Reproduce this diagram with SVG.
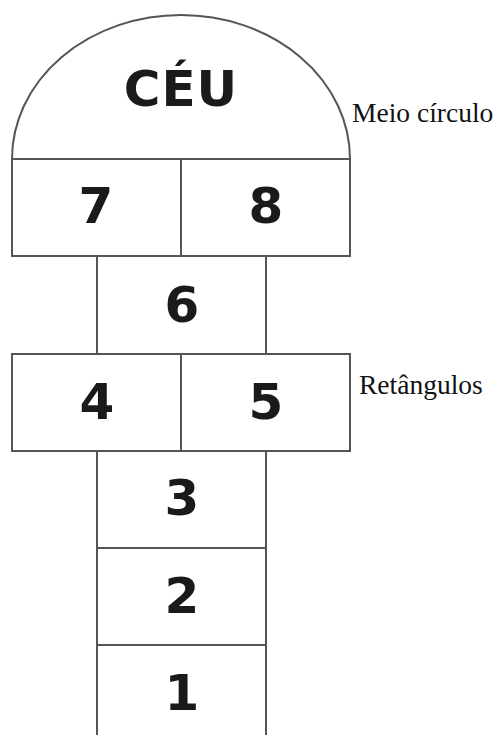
<svg xmlns="http://www.w3.org/2000/svg" width="496" height="735" viewBox="0 0 496 735">
<style>
.c{fill:#fff;stroke:#555;stroke-width:2}
.l{fill:none;stroke:#555;stroke-width:2}
.n{font-family:"DejaVu Sans",sans-serif;font-weight:bold;font-size:50px;fill:#1a1a1a;text-anchor:middle}
.lb{font-family:"Liberation Serif",serif;font-size:27.5px;fill:#111}
</style>
<rect width="496" height="735" fill="#fff"/>
<g id="ceu">
<path class="c" d="M12 159 A169 144 0 0 1 350 159 Z"/>
<text class="n" x="181" y="106" font-size="51" letter-spacing="1">CÉU</text>
</g>
<g id="box7"><rect class="c" x="12" y="159" width="169" height="97"/><text class="n" x="96" y="223">7</text></g>
<g id="box8"><rect class="c" x="181" y="159" width="169" height="97"/><text class="n" x="266" y="223">8</text></g>
<g id="box6"><rect class="c" x="97" y="256" width="169" height="98"/><text class="n" x="182" y="322">6</text></g>
<g id="box4"><rect class="c" x="12" y="354" width="169" height="97"/><text class="n" x="97" y="419">4</text></g>
<g id="box5"><rect class="c" x="181" y="354" width="169" height="97"/><text class="n" x="266" y="419">5</text></g>
<g id="box3"><rect class="c" x="97" y="451" width="169" height="97"/><text class="n" x="182" y="515">3</text></g>
<g id="box2"><rect class="c" x="97" y="548" width="169" height="97"/><text class="n" x="182" y="613">2</text></g>
<g id="box1"><path class="l" d="M97 736 V645 H266 V736"/><text class="n" x="182" y="710">1</text></g>
<g id="labels">
<text class="lb" x="352" y="122">Meio círculo</text>
<text class="lb" x="359" y="394">Retângulos</text>
</g>
</svg>
